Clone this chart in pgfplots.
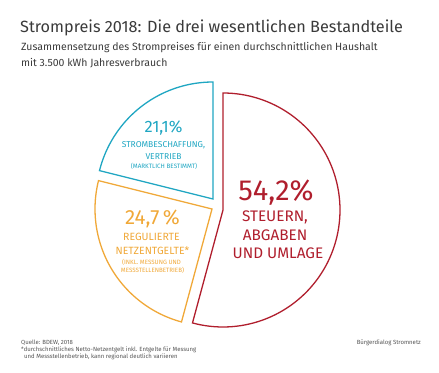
\documentclass[border=0pt]{standalone}
\usepackage{pgfplots}
\pgfplotsset{compat=1.18}
\usepackage{fontspec}
\setmainfont{Fira Sans}
\definecolor{cred}{HTML}{B01E2D}
\definecolor{corange}{HTML}{F0A838}
\definecolor{ccyan}{HTML}{1FA6C2}
\definecolor{ctitle}{HTML}{3A3A3A}
\definecolor{cfoot}{HTML}{555555}
\newcommand{\fs}[1]{\fontsize{#1bp}{#1bp}\selectfont}
% values (percent)
\def\vRed{54.2}
\def\vOrange{24.7}
\def\vCyan{21.1}
\pgfmathsetmacro{\aA}{90-3.6*\vRed}          % end of red
\pgfmathsetmacro{\aB}{\aA-3.6*\vOrange}      % end of orange
\pgfmathsetmacro{\aC}{\aB-3.6*\vCyan}        % end of cyan (=-270)
\def\R{117}
\begin{document}
\begin{tikzpicture}
\path[use as bounding box] (0,0) rectangle (439bp,373bp);
\begin{axis}[at={(0,0)},anchor=south west, scale only axis,
  width=439bp, height=373bp, xmin=0, xmax=439, ymin=0, ymax=373,
  hide axis, clip=false]
% red wedge, apex (223,163)
\addplot[cred, line width=1.3bp, domain=\aA:90, samples=90, variable=\t]
  ({223+\R*cos(\t)},{163+\R*sin(\t)}) -- (axis cs:223,163) -- cycle;
% orange wedge, apex (212,164)
\addplot[corange, line width=1.3bp, domain=\aB:\aA, samples=60, variable=\t]
  ({212+\R*cos(\t)},{164+\R*sin(\t)}) -- (axis cs:212,164) -- cycle;
% cyan wedge, apex (213,174)
\addplot[ccyan, line width=1.3bp, domain=\aC:\aB, samples=60, variable=\t]
  ({213+\R*cos(\t)},{174+\R*sin(\t)}) -- (axis cs:213,174) -- cycle;

% titles
\node[anchor=west, text=ctitle, inner sep=0] at (axis cs:20,345.5) {\fs{16.25}Strompreis 2018: Die drei wesentlichen Bestandteile};
\node[anchor=west, text=ctitle, inner sep=0] at (axis cs:21,325) {\fs{10.5}Zusammensetzung des Strompreises für einen durchschnittlichen Haushalt};
\node[anchor=west, text=ctitle, inner sep=0] at (axis cs:21,310) {\fs{10.5}mit 3.500 kWh Jahresverbrauch};

% cyan labels
\node[text=ccyan, inner sep=0] at (axis cs:163.5,244.5) {\fs{16.5}21,1\%};
\node[text=ccyan, inner sep=0] at (axis cs:163.5,228) {\fs{8.5}STROMBESCHAFFUNG,};
\node[text=ccyan, inner sep=0] at (axis cs:163.5,216.5) {\fs{8.5}VERTRIEB};
\node[text=ccyan, inner sep=0] at (axis cs:164,207) {\fs{6.3}(MARKTLICH BESTIMMT)};

% orange labels
\node[text=corange, inner sep=0] at (axis cs:152.5,154) {\fs{20.5}24,7\,\%};
\node[text=corange, inner sep=0] at (axis cs:151.5,136) {\fs{10.5}REGULIERTE};
\node[text=corange, inner sep=0] at (axis cs:152.5,122) {\fs{10.5}NETZENTGELTE*};
\node[text=corange, inner sep=0] at (axis cs:151.5,111) {\fs{6.2}(INKL. MESSUNG UND};
\node[text=corange, inner sep=0] at (axis cs:152.5,103) {\fs{6.2}MESSSTELLENBETRIEB)};

% red labels
\node[text=cred, inner sep=0] at (axis cs:276,180.5) {\fs{29}54,2\%};
\node[text=cred, inner sep=0] at (axis cs:275,156) {\fs{15.3}STEUERN,};
\node[text=cred, inner sep=0] at (axis cs:275,138) {\fs{15.3}ABGABEN};
\node[text=cred, inner sep=0] at (axis cs:278,120) {\fs{15.3}UND UMLAGE};

% footer
\node[anchor=west, text=cfoot, inner sep=0] at (axis cs:21,30) {\fs{6}Quelle: BDEW, 2018};
\node[anchor=west, text=cfoot, inner sep=0] at (axis cs:21,23.5) {\fs{6}*durchschnittliches Netto-Netzentgelt inkl. Entgelte für Messung};
\node[anchor=west, text=cfoot, inner sep=0] at (axis cs:24,16.5) {\fs{6}und Messstellenbetrieb, kann regional deutlich variieren};
\node[anchor=east, text=cfoot, inner sep=0] at (axis cs:421,30) {\fs{6}Bürgerdialog Stromnetz};
\end{axis}
\end{tikzpicture}
\end{document}
